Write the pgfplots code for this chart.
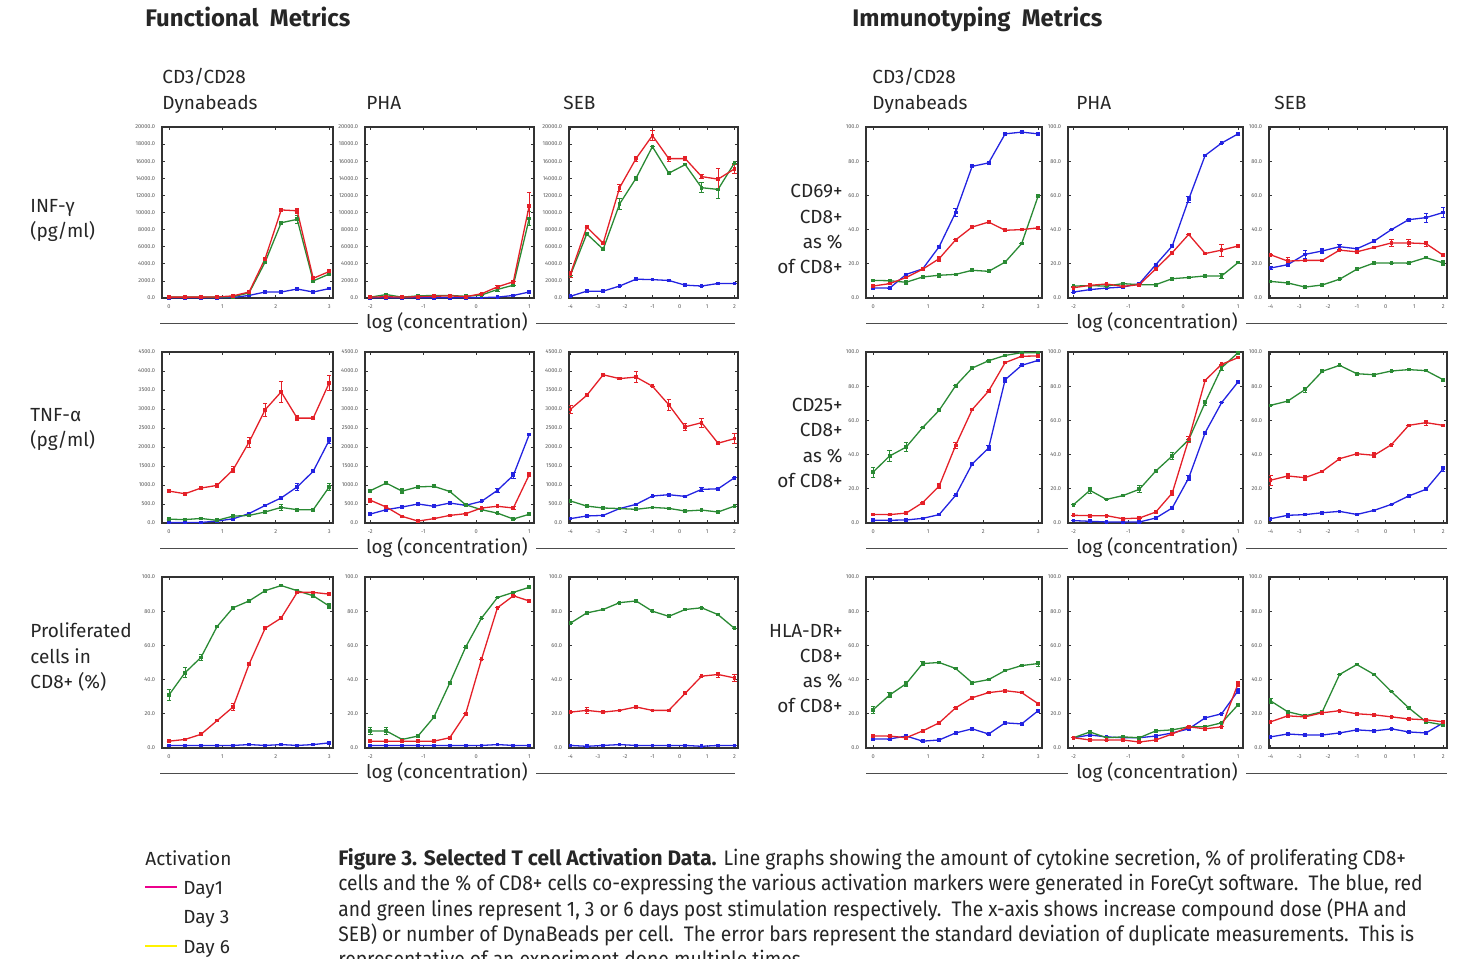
\documentclass[border=0pt]{standalone}
\usepackage{pgfplots}
\pgfplotsset{compat=1.18}
\usepackage{pgfplotstable}
\usepackage{fontspec}
\setmainfont{Fira Sans}
\newfontfamily\capfont{Fira Sans}[FakeStretch=0.917]
\newfontfamily\capbold{Fira Sans}[FakeStretch=0.995]
\definecolor{cb}{RGB}{35,35,225}
\definecolor{cr}{RGB}{228,32,40}
\definecolor{cg}{RGB}{42,138,52}

% columns: x, blue (day1), err, red (day3), err, green (day6), err
\pgfplotstableread{
x b be r re g ge
0 30 0 100 0 100 0
0.3 30 0 100 0 100 0
0.6 30 0 100 0 100 0
0.9 40 0 120 0 100 0
1.2 60 0 250 0 150 0
1.5 300 0 700 0 600 0
1.8 700 0 4600 0 4200 0
2.1 700 0 10300 0 8800 0
2.4 1050 0 10200 300 9200 500
2.7 700 0 2300 0 2000 200
3.0 1100 0 3100 300 2800 0
}\tA
\pgfplotstableread{
x b be r re g ge
-2 30 0 100 0 100 0
-1.7 30 0 150 0 400 0
-1.4 30 0 100 0 100 0
-1.1 30 0 150 0 250 0
-0.8 30 0 200 0 300 0
-0.5 30 0 250 0 300 0
-0.2 40 0 150 0 200 0
0.1 50 0 500 0 350 0
0.4 100 0 1300 200 1000 200
0.7 300 0 1900 0 1500 0
1.0 700 0 10800 1600 9300 800
}\tB
\pgfplotstableread{
x b be r re g ge
-4 200 0 2800 350 2650 0
-3.4 800 0 8300 0 7500 0
-2.8 800 0 6400 0 5700 0
-2.2 1400 0 12900 400 11000 650
-1.6 2200 0 16300 300 14000 200
-1.0 2150 0 19000 600 17700 0
-0.4 2050 0 16300 300 14600 200
0.2 1500 0 16300 250 15600 0
0.8 1400 0 14200 250 12900 600
1.4 1700 0 13900 1200 12700 1100
2.0 1700 0 15100 500 15800 0
}\tC
\pgfplotstableread{
x b be r re g ge
0 10 0 840 40 100 0
0.3 10 0 770 0 90 0
0.6 15 0 920 0 120 0
0.9 50 0 990 60 70 0
1.2 110 0 1400 80 180 0
1.5 250 0 2130 130 200 0
1.8 460 0 2980 180 290 40
2.1 660 0 3450 280 410 70
2.4 950 90 2760 60 350 0
2.7 1360 40 2760 0 350 0
3.0 2180 80 3690 200 950 80
}\tD
\pgfplotstableread{
x b be r re g ge
-2 235 0 600 50 850 0
-1.7 350 0 420 0 1050 0
-1.4 420 0 175 0 840 60
-1.1 500 0 50 0 950 0
-0.8 440 0 115 0 965 40
-0.5 525 0 200 0 830 0
-0.2 465 0 245 0 480 0
0.1 570 0 395 0 350 0
0.4 860 50 440 0 260 0
0.7 1255 80 395 40 105 0
1.0 2330 0 1270 50 230 0
}\tE
\pgfplotstableread{
x b be r re g ge
-4 115 0 2990 100 580 0
-3.4 185 0 3360 0 445 0
-2.8 200 0 3900 0 395 0
-2.2 380 0 3800 30 380 0
-1.6 490 30 3840 150 360 0
-1.0 710 0 3600 0 410 0
-0.4 745 30 3110 150 385 0
0.2 700 30 2530 100 315 0
0.8 885 60 2640 120 340 0
1.4 900 0 2100 0 290 0
2.0 1190 0 2220 130 445 0
}\tF
\pgfplotstableread{
x b be r re g ge
0 1.5 0 4 0 31 3
0.3 1.5 0 5 0 44 3
0.6 1.5 0 8 0 53 2
0.9 1.5 0 16 0 71 0
1.2 1.5 0 24 2 82 0
1.5 2 0 49 0 86 0
1.8 1.5 0 70 0 92 0
2.1 2 0 76 0 95 0
2.4 1.5 0 91 0 92 0
2.7 2 0 91 0 89 0
3.0 3 0 90 0 83 1.5
}\tG
\pgfplotstableread{
x b be r re g ge
-2 1.5 0 4 0 10 2
-1.7 1.5 0 4 0 10 2
-1.4 1.5 0 4 0 5 0
-1.1 1.5 0 4 0 7 0
-0.8 1.5 0 4 0 18 0
-0.5 1.5 0 6 0 38 0
-0.2 1.5 0 20 0 59 0
0.1 1.5 0 52 0 76 0
0.4 2 0 82 0 88 0
0.7 1.5 0 89 0 91 0
1.0 1.5 0 86 0 94 0
}\tH
\pgfplotstableread{
x b be r re g ge
-4 1.5 0 21 0 73 0
-3.4 1 0 22 1.5 79 0
-2.8 1.5 0 21 0 81 0
-2.2 2 0 22 0 85 0
-1.6 1.5 0 24 0 86 0
-1.0 1.5 0 22 0 80 0
-0.4 1.5 0 22 0 77 0
0.2 1.5 0 32 0 81 0
0.8 1 0 42 0 82 0
1.4 1.5 0 43 1.5 78 0
2.0 1.5 0 41 2 70 0
}\tI
\pgfplotstableread{
x b be r re g ge
0 5.8 0 7 0 10.3 0
0.3 5.8 0 8.4 0 10.1 0
0.6 13.8 0 12 0 9.2 1
0.9 17 0 16.8 0 12.3 0
1.2 30 0 23 1.5 13.3 1.2
1.5 50 2.5 34 0 13.8 0
1.8 77 0 41.5 0 16.2 0
2.1 79 0 44.4 0 15.6 0
2.4 96 0 39.6 0 21 0
2.7 97 0 40 0 31.8 0
3.0 96 0 41 0 59.6 0
}\tJ
\pgfplotstableread{
x b be r re g ge
-2 3.5 0 6 0 7 0
-1.7 4.9 0 7.4 0 7.2 0
-1.4 5.8 0 8.2 0 7 0
-1.1 6.4 0 6.8 0 8.4 0
-0.8 8.4 0 7.8 0 7.8 0
-0.5 19.5 0 17 0 7.8 0
-0.2 30.4 0 26.5 0 11.3 0
0.1 57.7 1.5 37.2 0 12 0
0.4 83.4 0 26 0 12.9 0
0.7 90.6 0 28 3.5 12.9 1.5
1.0 96 1 30.4 0 20.7 0
}\tK
\pgfplotstableread{
x b be r re g ge
-4 17.5 1 25.3 0 9.7 0
-3.4 19.5 0 21.6 2 8.8 0
-2.8 25.5 2.5 22 0 6.4 0
-2.2 27.5 1.5 22 0 7.6 0
-1.6 30 1.5 28 0 11 0
-1.0 28.8 0 27 1 16.8 0
-0.4 33.3 0 29.6 0 20.5 0
0.2 40 0 32.2 2 20.5 0
0.8 45.8 0 32.2 2 20.5 0
1.4 47 2.5 31.8 1.5 23.6 0
2.0 50 3 25 0 20.5 1.5
}\tL
\pgfplotstableread{
x b be r re g ge
0 1.6 0 5 0 29.8 3
0.3 1.6 0 4.9 0 39.2 3
0.6 1.8 0 5.8 0 44.4 2.5
0.9 2.7 0 11.9 0 55.8 0
1.2 4.9 0 21.6 1.5 65.9 0
1.5 16.2 0 45.4 1.5 80.3 0
1.8 34.5 0 66.3 0 90.6 0
2.1 43.9 1.5 77.2 0 94.9 0
2.4 83.8 1.5 93.8 0 98 0
2.7 92.2 0 97.5 0 99.6 0
3.0 95.1 0 97.7 0 99.6 0
}\tM
\pgfplotstableread{
x b be r re g ge
-2 1.4 0 4.5 0 10.7 0
-1.7 1 0 4.3 0 19.1 2
-1.4 0.6 0 4.3 0 13.8 0
-1.1 0.6 0 2.5 0 16 0
-0.8 0.6 0 2.9 0 19.7 2
-0.5 2.9 0 6.4 0 30.4 0
-0.2 8.8 0 17.5 1.5 39.2 2
0.1 26.3 1.5 48.9 1.5 48.7 0
0.4 52.8 0 83.4 0 70.4 1.5
0.7 70.4 0 92.8 0 90.8 1.5
1.0 82.5 0 96.7 0 99.6 0
}\tN
\pgfplotstableread{
x b be r re g ge
-4 2.5 0 25 3 68.8 0
-3.4 4.5 1 27.5 1.5 71.3 0
-2.8 4.9 0 26.5 1.5 78 1.5
-2.2 6 0 30.2 0 88.7 0
-1.6 6.8 0 37.6 0 92.2 0
-1.0 5 0 40.5 0 87.3 0
-0.4 7.4 0 39.6 1.5 86.7 0
0.2 10.9 0 45.8 0 88.9 0
0.8 15.8 0 57.1 0 89.7 0
1.4 19.7 0 58.7 1.5 89.1 0
2.0 31.8 1.5 57.1 0 83.8 0
}\tO
\pgfplotstableread{
x b be r re g ge
0 5.3 0 7 0 22.4 2
0.3 5.3 0 7 0 31 1.5
0.6 7 0 6 0 37.6 1.5
0.9 4 0 10 0 49.4 1
1.2 4.7 0 14.7 0 50 0
1.5 8.8 0 23.5 0 46.5 0
1.8 11.2 0 29.4 0 38.2 0
2.1 8.2 0 32.4 0 40 0
2.4 14.7 0 33.5 0 45.3 0
2.7 14.1 0 32.4 0 48.2 0
3.0 21.8 0 25.9 0 49.4 1.5
}\tP
\pgfplotstableread{
x b be r re g ge
-2 6 0 6 0 6 0
-1.7 7.6 0 4.7 0 9.4 0
-1.4 6.5 0 4.7 0 6 0
-1.1 6 0 4.7 0 6.5 0
-0.8 6 0 3.5 0 6 0
-0.5 7 0 4.7 0 10 0
-0.2 8.8 0 8.2 0 10.6 0
0.1 11.2 0 12.4 0 12.4 0
0.4 17.6 0 11.2 0 12.4 0
0.7 20 0 12.4 0 14.7 0
1.0 33.5 1.5 37.6 1.5 25.3 0
}\tQ
\pgfplotstableread{
x b be r re g ge
-4 6.5 0 15.3 0 27.6 1.5
-3.4 8.2 0 18.8 0 21.2 0
-2.8 7.6 0 18.2 0 18.8 0
-2.2 7.6 0 20.6 0 21.2 0
-1.6 8.8 0 21.8 0 43 0
-1.0 10.6 0 20 0 48.8 0
-0.4 10 0 19.4 0 43 0
0.2 11.2 0 18.2 0 33 0
0.8 9.4 0 17 0 23.5 0
1.4 8.8 0 16.5 0 15.3 0
2.0 14.7 0 15.3 0 13.5 0
}\tR

\pgfplotsset{
  panel/.style={scale only axis, anchor=south west, height=85.5pt,
    axis line style={black!80, line width=0.7pt},
    tick align=inside, major tick length=1.5pt,
    every tick/.style={black!80, line width=0.35pt},
    tick label style={font=\fontsize{2.8}{3}\selectfont, text=black!65},
    /pgf/number format/assume math mode=true,
    scaled y ticks=false,
    yticklabel style={/pgf/number format/fixed, /pgf/number format/fixed zerofill, /pgf/number format/precision=1, /pgf/number format/1000 sep={}},
    xticklabel style={/pgf/number format/fixed},
    every axis plot/.append style={line width=0.65pt, mark=square*, mark size=0.6pt},
    error bars/error bar style={line width=0.4pt},
    error bars/error mark options={rotate=90, mark size=1.1pt, line width=0.4pt},
  },
  ebar/.style={error bars/.cd, y dir=both, y explicit},
  dyna/.style={xmin=-0.13, xmax=3.07, xtick={0,1,2,3}},
  pha/.style={xmin=-2.1, xmax=1.09, xtick={-2,-1,0,1}},
  seb/.style={xmin=-4.05, xmax=2.13, xtick={-4,-3,-2,-1,0,1,2}},
  ifn/.style={ymin=0, ymax=20000, ytick={0,2000,...,20000}},
  tnf/.style={ymin=0, ymax=4500, ytick={0,500,...,4500}},
  pct/.style={ymin=0, ymax=100, ytick={0,20,...,100}},
}
\newcommand{\tri}[1]{%
  \addplot[cb, ebar] table[x=x, y=b, y error=be]{#1};
  \addplot[cg, ebar] table[x=x, y=g, y error=ge]{#1};
  \addplot[cr, ebar] table[x=x, y=r, y error=re]{#1};}

\begin{document}
\begin{tikzpicture}
\useasboundingbox (0,0) rectangle (732pt,-479.5pt);
\clip (0,0) rectangle (732pt,-479.5pt);

% ---- row 1
\begin{axis}[panel, ifn, dyna, width=85.5pt, at={(81pt,-149pt)}]\tri{\tA}\end{axis}
\begin{axis}[panel, ifn, pha, width=84.5pt, at={(182.5pt,-149pt)}]\tri{\tB}\end{axis}
\begin{axis}[panel, ifn, seb, width=84.5pt, at={(284.5pt,-149pt)}]\tri{\tC}\end{axis}
\begin{axis}[panel, pct, dyna, width=88pt, at={(433pt,-149pt)}]\tri{\tJ}\end{axis}
\begin{axis}[panel, pct, pha, width=87.5pt, at={(534pt,-149pt)}]\tri{\tK}\end{axis}
\begin{axis}[panel, pct, seb, width=89pt, at={(634.5pt,-149pt)}]\tri{\tL}\end{axis}
% ---- row 2
\begin{axis}[panel, tnf, dyna, width=85.5pt, at={(81pt,-261.5pt)}]\tri{\tD}\end{axis}
\begin{axis}[panel, tnf, pha, width=84.5pt, at={(182.5pt,-261.5pt)}]\tri{\tE}\end{axis}
\begin{axis}[panel, tnf, seb, width=84.5pt, at={(284.5pt,-261.5pt)}]\tri{\tF}\end{axis}
\begin{axis}[panel, pct, dyna, width=88pt, at={(433pt,-261.5pt)}]\tri{\tM}\end{axis}
\begin{axis}[panel, pct, pha, width=87.5pt, at={(534pt,-261.5pt)}]\tri{\tN}\end{axis}
\begin{axis}[panel, pct, seb, width=89pt, at={(634.5pt,-261.5pt)}]\tri{\tO}\end{axis}
% ---- row 3
\begin{axis}[panel, pct, dyna, width=85.5pt, at={(81pt,-374pt)}]\tri{\tG}\end{axis}
\begin{axis}[panel, pct, pha, width=84.5pt, at={(182.5pt,-374pt)}]\tri{\tH}\end{axis}
\begin{axis}[panel, pct, seb, width=84.5pt, at={(284.5pt,-374pt)}]\tri{\tI}\end{axis}
\begin{axis}[panel, pct, dyna, width=88pt, at={(433pt,-374pt)}]\tri{\tP}\end{axis}
\begin{axis}[panel, pct, pha, width=87.5pt, at={(534pt,-374pt)}]\tri{\tQ}\end{axis}
\begin{axis}[panel, pct, seb, width=89pt, at={(634.5pt,-374pt)}]\tri{\tR}\end{axis}

\begin{scope}[x=0.5pt, y=-0.5pt, every node/.style={inner sep=0pt, text=black!85}]
  \node[anchor=base west, font=\capbold\bfseries\fontsize{12}{14}\selectfont] at (145,26) {Functional\ \ Metrics};
  \node[anchor=base west, font=\capbold\bfseries\fontsize{12}{14}\selectfont] at (852,26) {Immunotyping\ \ Metrics};
  \tikzset{lab/.style={font=\fontsize{9.5}{11}\selectfont}}
  % column headers
  \foreach \xx in {162,872} {
    \node[lab, anchor=base west] at (\xx,83) {CD3/CD28};
    \node[lab, anchor=base west] at (\xx,109) {Dynabeads};
  }
  \node[lab, anchor=base west] at (366,109) {PHA};
  \node[lab, anchor=base west] at (563,109) {SEB};
  \node[lab, anchor=base west] at (1076,109) {PHA};
  \node[lab, anchor=base west] at (1274,109) {SEB};
  % left row labels
  \node[lab, anchor=base west] at (30,212) {INF-γ};
  \node[lab, anchor=base west] at (30,237) {(pg/ml)};
  \node[lab, anchor=base west] at (30,421) {TNF-α};
  \node[lab, anchor=base west] at (30,446) {(pg/ml)};
  \node[lab, anchor=base west] at (30,637) {Proliferated};
  \node[lab, anchor=base west] at (30,663) {cells in};
  \node[lab, anchor=base west] at (30,688) {CD8+ (\%)};
  % right row labels
  \foreach \a/\yy in {CD69+/197, CD8+/223, as \%/248, of CD8+/273,
                      CD25+/411, CD8+/436, as \%/462, of CD8+/487,
                      HLA-DR+/637, CD8+/662, as \%/687, of CD8+/712}
    \node[lab, anchor=base east] at (843,\yy) {\a};
  % log (concentration) separators
  \foreach \yy in {323,548,773} {
    \draw[black!70, line width=0.5pt] (160,\yy) -- (735,\yy);
    \draw[black!70, line width=0.5pt] (866,\yy) -- (1447,\yy);
    \node[lab, font=\fontsize{9.4}{11}\selectfont, fill=white, inner xsep=4pt, inner ysep=1pt] at (447,\yy) {log (concentration)};
    \node[lab, font=\fontsize{9.4}{11}\selectfont, fill=white, inner xsep=4pt, inner ysep=1pt] at (1157,\yy) {log (concentration)};
  }
  % legend
  \node[lab, anchor=base west] at (145,865) {Activation};
  \draw[magenta, line width=1.1pt] (145,887) -- (177,887);
  \node[lab, anchor=base west] at (183,894) {Day1};
  \node[lab, anchor=base west] at (183,923) {Day 3};
  \draw[yellow, line width=1.1pt] (145,946) -- (177,946);
  \node[lab, anchor=base west] at (183,953) {Day 6};
  % caption
  \tikzset{captext/.style={anchor=base west, font=\capfont\fontsize{10.5}{12}\selectfont}}
  \node[captext] at (338,865) {{\capbold\bfseries Figure 3. Selected T cell Activation Data.} Line graphs showing the amount of cytokine secretion, \% of proliferating CD8+};
  \node[captext] at (338,890) {cells and the \% of CD8+ cells co-expressing the various activation markers were generated in ForeCyt software.\ \ The blue, red};
  \node[captext] at (338,916) {and green lines represent 1, 3 or 6 days post stimulation respectively.\ \ The x-axis shows increase compound dose (PHA and};
  \node[captext] at (338,941) {SEB) or number of DynaBeads per cell.\ \ The error bars represent the standard deviation of duplicate measurements.\ \ This is};
  \node[captext] at (338,966) {representative of an experiment done multiple times.};
\end{scope}
\end{tikzpicture}
\end{document}
